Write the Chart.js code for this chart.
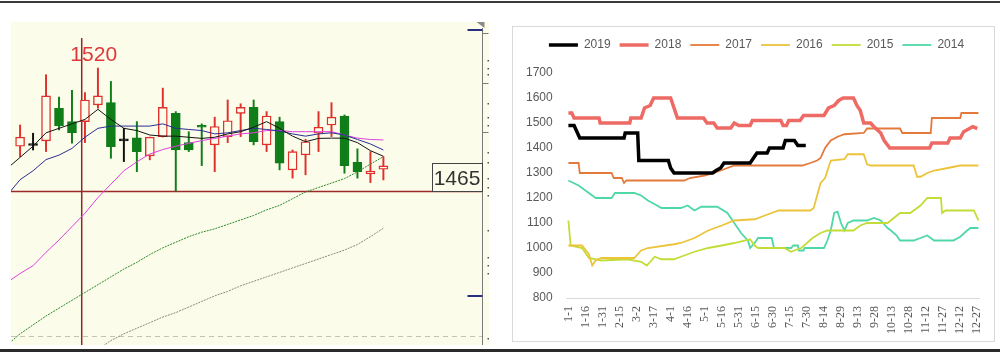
<!DOCTYPE html>
<html>
<head>
<meta charset="utf-8">
<script src="https://cdn.jsdelivr.net/npm/chart.js@4.4.1/dist/chart.umd.min.js"></script>
<style>
  html,body{margin:0;padding:0;background:#fff;}
  body{width:1000px;height:357px;position:relative;overflow:hidden;}
  .abs{position:absolute;}
</style>
</head>
<body>
<div class="abs" style="left:0;top:0;width:500px;height:357px;"><canvas id="leftChart" width="500" height="357"></canvas></div>
<div class="abs" style="left:512px;top:26px;width:483px;height:316px;"><canvas id="rightChart" width="483" height="316"></canvas></div>
<div class="abs" style="left:512px;top:26px;width:483px;height:316px;border:1px solid #d9d9d9;box-sizing:border-box;"></div>
<div class="abs" style="left:0;top:1px;width:1000px;height:2px;background:#3a3a3a;"></div>
<div class="abs" style="left:0;top:349px;width:1000px;height:3px;background:#2a2a2a;"></div>
<script>
// ---------------- LEFT: candlestick data ----------------
const candleOpen  = [1485,1485.3,1487.4,1502,1496,1496,1503.5,1504.5,1487.4,1488.8,1480.7,1489.3,1499.7,1486.6,1494.2,1485.6,1489.3,1499.7,1502.4,1485.6,1496,1474.4,1481.1,1490.8,1494.5,1498.5,1477.8,1472.6,1474.7];
const candleHigh  = [1494.5,1490.8,1517,1507,1510,1509,1520,1514,1493,1496,1489.1,1511,1500.5,1491.5,1495,1498,1505.7,1504,1505.7,1500.5,1498,1483.3,1488.1,1500.5,1504.5,1499,1483.8,1482.6,1480.3];
const candleLow   = [1480.3,1483.3,1482.6,1492.3,1486.3,1486.6,1502,1479.6,1478.1,1473.6,1478.9,1489.1,1465,1482.6,1476.3,1473.6,1486.6,1489.3,1485.6,1482.6,1474.4,1470.7,1472.2,1482.6,1489.3,1472.9,1470.7,1468.7,1469.9];
const candleClose = [1489,1485.3,1507.5,1494.1,1491.1,1505.7,1507.5,1484.8,1487.4,1482.6,1489,1502.4,1483.3,1483.3,1493.5,1493.8,1496.4,1502.4,1487,1498.5,1477.4,1482.6,1487,1493.5,1498,1476.3,1473.6,1473.9,1476.2];
// moving averages, values for candle index -1 .. 28
const ma5   = [1475,1480,1485,1491,1493,1495,1497,1501.5,1497,1493,1492,1490,1489.5,1489.5,1489,1488.5,1489,1490.5,1491.5,1493.5,1496,1493,1489.5,1487,1488.5,1488.6,1488.6,1486.6,1483,1480.5];
const ma10  = [1463,1470,1474,1479,1481,1484,1489,1493,1494,1494,1494,1494,1495,1493,1492.5,1492,1490.5,1491,1492,1493,1492.5,1491.8,1490.5,1489.5,1490.5,1491,1490,1488,1486,1483.3];
const ma20  = [1424,1428,1431.5,1437.5,1443,1449,1455,1462,1468,1474,1478,1481.5,1483.5,1485,1486.3,1487.5,1488.5,1489.5,1490.5,1491,1492,1492,1491.5,1491.5,1491.5,1491.5,1490,1488.6,1488,1487.8];
const ma60  = [1396,1401,1405,1409,1412.5,1416,1419.5,1423,1426.5,1430,1433,1436.5,1439.5,1442,1444.5,1446.5,1448,1450,1452,1454,1456.5,1458.5,1461.5,1464.5,1466.5,1468.5,1470.5,1473.5,1477,1480.3];
const ma120 = [null,null,null,null,null,null,null,1394,1398,1401,1403.5,1406,1408.5,1410.5,1413,1415.5,1418,1420,1422.5,1424.5,1426.5,1428.5,1430.5,1432.5,1434.5,1436.5,1438.5,1441,1444.5,1448.3];
const highMarkLabel = 1520;      // label of the marked high
const crosshairIndex = 4.75;     // vertical cursor line position (candle index)
const lastPrice = 1465;          // horizontal price line / box label
const dashedLevel = 1400;
const blueMarkLevels = [1537, 1418];
const axisTickLevels = [1535.5, 1513.5, 1491.5];
const axisDotLevels = [1523.6,1519.9,1517.4,1504.3,1498,1494.5,1482.6,1477.8,1470.7,1466.9,1463.2,1447.5,1435.6,1431.9,1428.2,1399];

// ---------------- RIGHT: seasonal data ([day-of-year, price]) ----------------
const tickLabels = ['1-1','1-16','1-31','2-15','3-2','3-17','4-1','4-16','5-1','5-16','5-31','6-15','6-30','7-15','7-30','8-14','8-29','9-13','9-28','10-13','10-28','11-12','11-27','12-12','12-27'];
const tickDays = [0,15,30,45,60,75,90,105,120,135,150,165,180,195,210,225,240,255,270,285,300,315,330,345,360];
const yTicks = [800,900,1000,1100,1200,1300,1400,1500,1600,1700];
const s2019 = [[0,1490],[5,1490],[8,1460],[10,1440],[49,1440],[50,1460],[61,1460],[62,1350],[88,1350],[90,1320],[93,1300],[127,1300],[130,1310],[134,1320],[137,1340],[160,1340],[163,1360],[166,1380],[175,1380],[177,1400],[189,1400],[191,1430],[199,1430],[202,1410],[209,1410]];
const s2018 = [[0,1540],[3,1540],[5,1520],[27,1520],[28,1500],[54,1500],[55,1520],[64,1520],[67,1560],[72,1570],[75,1600],[90,1600],[96,1520],[119,1520],[122,1500],[128,1500],[131,1480],[143,1480],[146,1500],[150,1490],[160,1490],[162,1510],[187,1510],[189,1490],[192,1490],[194,1510],[204,1510],[207,1530],[225,1530],[229,1560],[234,1570],[238,1590],[242,1600],[251,1600],[254,1570],[257,1550],[260,1500],[266,1500],[269,1485],[275,1460],[278,1430],[283,1400],[318,1400],[320,1420],[334,1420],[336,1440],[345,1440],[348,1465],[352,1475],[356,1485],[360,1478]];
const s2017 = [[0,1340],[9,1340],[10,1300],[38,1300],[40,1280],[47,1280],[49,1260],[51,1270],[102,1270],[107,1280],[120,1290],[128,1300],[134,1310],[140,1320],[146,1330],[206,1330],[213,1340],[219,1350],[222,1360],[226,1400],[231,1430],[237,1445],[243,1455],[260,1460],[263,1478],[292,1478],[294,1460],[319,1460],[320,1520],[345,1520],[346,1540],[361,1540]];
const s2016 = [[0,1010],[12,1010],[18,975],[21,930],[24,950],[29,960],[58,960],[64,990],[70,1000],[93,1015],[99,1020],[111,1040],[123,1070],[135,1090],[146,1110],[164,1115],[173,1130],[185,1150],[213,1150],[216,1160],[222,1260],[226,1280],[231,1350],[243,1355],[246,1375],[260,1375],[263,1335],[266,1330],[304,1330],[307,1285],[310,1285],[316,1300],[322,1310],[334,1320],[345,1330],[361,1330]];
const s2015 = [[0,1110],[2,1010],[12,1000],[18,960],[29,950],[52,955],[64,945],[69,930],[76,965],[82,955],[93,955],[99,965],[111,985],[123,1000],[135,1010],[146,1020],[155,1030],[160,1035],[164,1010],[167,1000],[190,1000],[196,985],[199,990],[205,1000],[215,1040],[222,1060],[228,1070],[251,1070],[257,1090],[263,1100],[281,1100],[292,1140],[301,1140],[310,1170],[316,1200],[328,1200],[329,1140],[332,1150],[357,1150],[361,1110]];
const s2014 = [[0,1270],[9,1250],[15,1230],[21,1210],[24,1200],[38,1200],[41,1220],[58,1220],[64,1210],[70,1190],[76,1175],[82,1160],[99,1160],[105,1170],[111,1150],[117,1165],[131,1165],[140,1140],[146,1100],[152,1060],[158,1030],[160,1000],[164,1020],[167,1040],[179,1040],[181,1000],[196,1000],[198,1010],[202,1010],[203,990],[207,990],[208,1000],[225,1000],[228,1030],[231,1070],[234,1140],[237,1145],[240,1100],[243,1070],[246,1100],[251,1110],[263,1110],[269,1120],[275,1110],[281,1080],[284,1070],[289,1050],[292,1030],[304,1030],[310,1040],[316,1050],[322,1030],[339,1030],[345,1045],[351,1070],[354,1080],[361,1080]];
const seriesNames = ['2019','2018','2017','2016','2015','2014'];

// ---------------- LEFT chart ----------------
const CREAM = '#fcfcea';
const RED = '#e0302c', GREEN = '#0f7d18', BLACK = '#111';
const idx = candleOpen.map((_, i) => i);
const candleColor = idx.map(i => candleClose[i] > candleOpen[i] ? RED : (candleClose[i] < candleOpen[i] ? GREEN : BLACK));
const bodyFill = idx.map(i => candleClose[i] > candleOpen[i] ? CREAM : candleColor[i]);
const wickData = idx.map(i => ({x: i, y: [candleLow[i], candleHigh[i]]}));
const bodyData = idx.map(i => ({x: i, y: [Math.min(candleOpen[i], candleClose[i]), Math.max(candleOpen[i], candleClose[i])]}));
const maPts = arr => arr.map((v, i) => ({x: i - 1, y: v}));
const maLine = (arr, color, dash) => ({type: 'line', data: maPts(arr), borderColor: color, borderWidth: 1, pointRadius: 0, tension: 0, borderDash: dash || [], order: 0, spanGaps: false});

const leftDecor = {
  id: 'leftDecor',
  beforeDraw(chart) {
    const {ctx, chartArea: a, scales: {x, y}} = chart;
    ctx.save();
    ctx.fillStyle = CREAM;
    ctx.fillRect(a.left, a.top, a.right - a.left + 7, a.bottom - a.top);
    ctx.strokeStyle = '#c4c4b4';
    ctx.lineWidth = 1;
    ctx.setLineDash([5, 4]);
    const yd = Math.round(y.getPixelForValue(dashedLevel)) + 0.5;
    ctx.beginPath(); ctx.moveTo(a.left, yd); ctx.lineTo(a.right, yd); ctx.stroke();
    ctx.setLineDash([]);
    const yp = Math.round(y.getPixelForValue(lastPrice)) + 0.5;
    ctx.strokeStyle = '#9b2b2b';
    ctx.lineWidth = 1.3;
    ctx.beginPath(); ctx.moveTo(a.left, yp); ctx.lineTo(a.right, yp); ctx.stroke();
    const xv = x.getPixelForValue(crosshairIndex);
    ctx.strokeStyle = '#8e2a2a';
    ctx.lineWidth = 1.5;
    ctx.beginPath(); ctx.moveTo(xv, a.top + 16); ctx.lineTo(xv, a.bottom); ctx.stroke();
    ctx.restore();
  },
  afterDraw(chart) {
    const {ctx, chartArea: a, scales: {x, y}} = chart;
    ctx.save();
    const ax = a.right + 0.5;
    ctx.strokeStyle = '#7a7a7a';
    ctx.lineWidth = 1;
    ctx.beginPath(); ctx.moveTo(ax, a.top + 6); ctx.lineTo(ax, a.bottom); ctx.stroke();
    axisTickLevels.forEach(v => {
      const yy = Math.round(y.getPixelForValue(v)) + 0.5;
      ctx.beginPath(); ctx.moveTo(ax, yy); ctx.lineTo(ax + 6, yy); ctx.stroke();
    });
    ctx.fillStyle = '#555';
    axisDotLevels.forEach(v => {
      const yy = Math.round(y.getPixelForValue(v));
      ctx.fillRect(ax + 5, yy, 1.5, 1.5);
    });
    ctx.strokeStyle = '#26307e';
    ctx.lineWidth = 2;
    blueMarkLevels.forEach(v => {
      const yy = Math.round(y.getPixelForValue(v));
      ctx.beginPath(); ctx.moveTo(ax - 15, yy); ctx.lineTo(ax, yy); ctx.stroke();
    });
    ctx.fillStyle = '#8a8a8a';
    ctx.beginPath(); ctx.moveTo(ax - 6, a.top); ctx.lineTo(ax + 2, a.top); ctx.lineTo(ax + 2, a.top + 6); ctx.closePath(); ctx.fill();
    const yp = Math.round(y.getPixelForValue(lastPrice));
    ctx.fillStyle = CREAM;
    ctx.fillRect(a.right - 50, yp - 28, 50, 28);
    ctx.strokeStyle = '#444';
    ctx.lineWidth = 1;
    ctx.strokeRect(a.right - 50 + 0.5, yp - 28 + 0.5, 50, 28);
    ctx.fillStyle = '#333';
    ctx.font = '21px "Liberation Sans", Arial, sans-serif';
    ctx.textAlign = 'center';
    ctx.textBaseline = 'alphabetic';
    ctx.fillText(String(lastPrice), a.right - 25, yp - 6);
    ctx.fillStyle = '#e0383a';
    ctx.fillText(String(highMarkLabel), x.getPixelForValue(crosshairIndex) + 12, a.top + 39);
    ctx.restore();
  }
};

new Chart(document.getElementById('leftChart'), {
  data: {
    datasets: [
      maLine(ma5, '#151515'),
      maLine(ma10, '#2b2e93'),
      maLine(ma20, '#e040e0'),
      maLine(ma60, '#2f8a2f', [2, 1]),
      maLine(ma120, '#8a8a82', [2, 1]),
      {type: 'bar', data: bodyData, backgroundColor: bodyFill, borderColor: candleColor, borderWidth: 1.4, borderSkipped: false, barThickness: 9, grouped: false, minBarLength: 2, order: 1},
      {type: 'bar', data: wickData, backgroundColor: candleColor, borderWidth: 0, barThickness: 1.3, grouped: false, order: 2}
    ]
  },
  options: {
    responsive: false, animation: false, events: [],
    layout: {padding: {left: 11, right: 18, top: 22, bottom: 12}},
    plugins: {legend: {display: false}, tooltip: {enabled: false}},
    scales: {
      x: {type: 'linear', min: -0.7, max: 35.6, display: false, offset: false},
      y: {min: 1396, max: 1540.6, display: false}
    }
  },
  plugins: [leftDecor]
});

// ---------------- RIGHT chart ----------------
const seriesData = [s2019, s2018, s2017, s2016, s2015, s2014];
const seriesColors = ['#000000', '#ee6a64', '#e37a3c', '#ebc43c', '#c4dc38', '#4fd8a6'];
const seriesWidths = [3.5, 3.5, 1.8, 1.8, 1.8, 1.8];

const legendTweak = {
  id: 'legendTweak',
  beforeInit(chart) {
    const lg = chart.legend;
    const fit = lg.fit;
    lg.fit = function () { fit.call(this); this.height += 12; };
    const draw = lg.draw;
    lg.draw = function () { const c = this.ctx; c.save(); c.translate(11, 0); draw.call(this); c.restore(); };
  }
};

new Chart(document.getElementById('rightChart'), {
  type: 'line',
  data: {
    datasets: seriesNames.map((n, i) => ({
      label: n,
      data: seriesData[i].map(([d, v]) => ({x: d, y: v})),
      borderColor: seriesColors[i],
      backgroundColor: seriesColors[i],
      borderWidth: seriesWidths[i],
      pointRadius: 0, tension: 0, fill: false
    }))
  },
  options: {
    responsive: false, animation: false, events: [],
    layout: {padding: {left: 0, right: 16, top: 4, bottom: 0}},
    plugins: {
      tooltip: {enabled: false},
      legend: {
        position: 'top',
        labels: {
          usePointStyle: true, pointStyle: 'line', pointStyleWidth: 29,
          padding: 9, color: '#595959',
          font: {family: '"Liberation Sans", Arial, sans-serif', size: 12},
          generateLabels: chart => chart.data.datasets.map((ds, i) => ({
            text: ds.label, fillStyle: ds.borderColor, strokeStyle: ds.borderColor,
            lineWidth: ds.borderWidth, pointStyle: 'line', hidden: false, datasetIndex: i, fontColor: '#595959'
          }))
        }
      }
    },
    scales: {
      x: {
        type: 'linear', min: -1.5, max: 361.5,
        afterBuildTicks: axis => { axis.ticks = tickDays.map(v => ({value: v})); },
        afterFit: s => { s.paddingRight = 0; s.paddingLeft = 0; },
        ticks: {autoSkip: false, minRotation: 90, maxRotation: 90, padding: 8, color: '#595959',
          font: {family: '"Liberation Serif", serif', size: 12},
          callback: (v, i) => tickLabels[i]},
        grid: {display: false, drawTicks: false},
        border: {display: true, color: '#d9d9d9', width: 1}
      },
      y: {
        min: 800, max: 1700,
        afterBuildTicks: axis => { axis.ticks = yTicks.map(v => ({value: v})); },
        ticks: {padding: 14, color: '#595959', font: {family: '"Liberation Sans", Arial, sans-serif', size: 12},
          callback: v => String(v)},
        grid: {display: false, drawTicks: false},
        border: {display: false}
      }
    }
  },
  plugins: [legendTweak]
});
</script>
</body>
</html>
